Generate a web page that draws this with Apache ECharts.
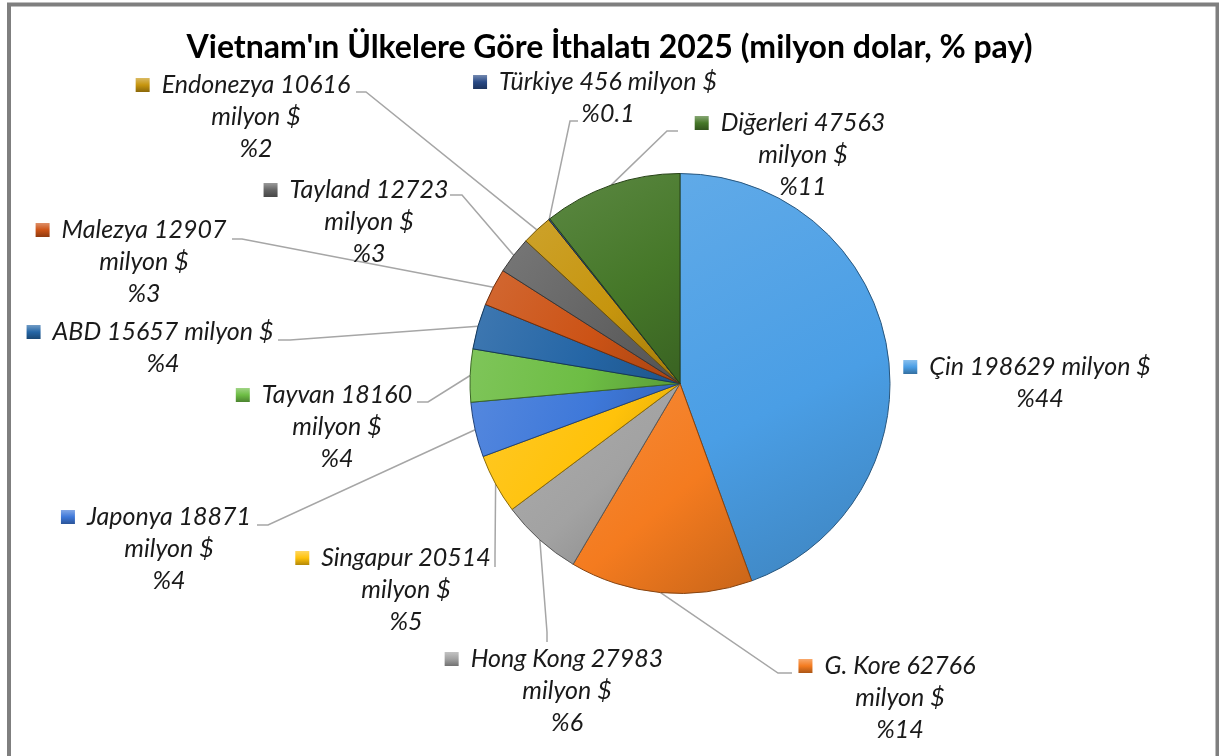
<!DOCTYPE html>
<html>
<head>
<meta charset="utf-8">
<script src="https://cdn.jsdelivr.net/npm/echarts@6/dist/echarts.min.js"></script>
<style>
html,body{margin:0;padding:0;background:#fff;}
#c{width:1219px;height:756px;}
</style>
</head>
<body>
<div id="c"></div>
<script>
// ---- data ----
const titleText = "Vietnam'ın Ülkelere Göre İthalatı 2025 (milyon dolar, % pay)";
const countries = ['Çin','G. Kore','Hong Kong','Singapur','Japonya','Tayvan','ABD','Malezya','Tayland','Endonezya','Türkiye','Diğerleri'];
const values = [198629, 62766, 27983, 20514, 18871, 18160, 15657, 12907, 12723, 10616, 456, 47563];
const unitText = 'milyon $';
const oneLineNames = ['Çin','ABD','Türkiye'];

// ---- styles / layout ----
const colors = ['#4a9ee5','#f47b1f','#a2a2a2','#ffc20a','#3e78d9','#6dbd44','#2566a6','#cc5316','#646464','#c6950e','#294a86','#467829'];
// label anchor: [centerX of text, centerY of first line]
const labelPos = [
  [1040,367],[900,666],[567,659],[406,558],[169,517],[337,395],
  [163,332],[144,230],[369,190],[256,85],[608,82],[803,123]
];
// leader line: [label end point, elbow point] (null = no line)
const linePts = [
  null,
  [[792,673],[778,673]],
  [[547,642],[547,632]],
  [[495,567],[495,556]],
  [[257,525],[268,525]],
  [[417,402],[428,402]],
  [[278,340],[290,340]],
  [[232,239],[242,239]],
  [[450,195],[462,195]],
  [[356,92],[366,92]],
  [[578,121],[570,121]],
  [[678,131],[667,131]]
];
const LH = 32;

function adj(hex, f){
  const n = parseInt(hex.slice(1),16);
  let r=(n>>16)&255,g=(n>>8)&255,b=n&255;
  if(f>=0){r=r+(255-r)*f;g=g+(255-g)*f;b=b+(255-b)*f;}
  else {r=r*(1+f);g=g*(1+f);b=b*(1+f);}
  return 'rgb('+Math.round(r)+','+Math.round(g)+','+Math.round(b)+')';
}

const total = values.reduce((a,b)=>a+b,0);
function pctStr(v){
  const p = v/total*100;
  return p < 1 ? p.toFixed(1) : String(Math.round(p));
}

const rich = {
  t:{fontFamily:'Lato',fontStyle:'italic',fontSize:25,color:'#1a1a1a',lineHeight:LH},
  sp:{width:12,height:14,lineHeight:LH},
  sp2:{width:26,height:14,lineHeight:LH}
};
colors.forEach((c,i)=>{
  rich['m'+i] = {
    width:14,height:14,lineHeight:LH,
    backgroundColor:{type:'linear',x:0,y:0,x2:0,y2:1,colorStops:[{offset:0,color:adj(c,0.35)},{offset:0.5,color:c},{offset:1,color:adj(c,-0.3)}]}
  };
});

const data = countries.map((n,i)=>({
  name:n,
  value:values[i],
  itemStyle:{
    color:{type:'linear',x:0,y:0,x2:1,y2:1,colorStops:[
      {offset:0,color:adj(colors[i],0.12)},
      {offset:0.55,color:colors[i]},
      {offset:1,color:adj(colors[i],-0.18)}
    ]},
    borderColor:adj(colors[i],-0.45),
    borderWidth:1
  },
  labelLine:{show: linePts[i] !== null}
}));

const chart = echarts.init(document.getElementById('c'), null, {renderer:'canvas'});
chart.setOption({
  backgroundColor:'#ffffff',
  animation:false,
  title:{
    text:titleText,
    left:'center',
    top:27,
    textStyle:{fontFamily:'Lato',fontWeight:'bold',fontSize:32,color:'#000'}
  },
  graphic:[{
    type:'rect',
    shape:{x:9,y:4.5,width:1208.5,height:800},
    style:{fill:'none',stroke:'#7f7f7f',lineWidth:4},
    silent:true
  }],
  series:[{
    type:'pie',
    center:[680,383.5],
    radius:[0,210],
    startAngle:90,
    clockwise:true,
    data:data,
    label:{
      show:true,
      position:'outside',
      align:'center',
      rich:rich,
      formatter:function(p){
        const i = p.dataIndex;
        const head = '{m'+i+'|}{sp|}';
        const tail = '{sp2|}';
        if(oneLineNames.indexOf(p.name) >= 0){
          return head+'{t|'+p.name+' '+p.value+' '+unitText+'}'+tail+'\n{t|%'+pctStr(p.value)+'}';
        }
        return head+'{t|'+p.name+' '+p.value+'}'+tail+'\n{t|'+unitText+'}\n{t|%'+pctStr(p.value)+'}';
      }
    },
    labelLine:{show:true,lineStyle:{color:'#a6a6a6',width:1.5},length:10,length2:10},
    labelLayout:function(params){
      const i = params.dataIndex;
      const lp = labelPos[i];
      const res = {x:lp[0], y:lp[1]-LH/2, align:'center', verticalAlign:'top'};
      const lines = linePts[i];
      if(lines && params.labelLinePoints){
        const p0 = params.labelLinePoints[0];
        res.labelLinePoints = [[p0[0],p0[1]], lines[1], lines[0]];
      }
      return res;
    }
  }]
});
</script>
</body>
</html>
